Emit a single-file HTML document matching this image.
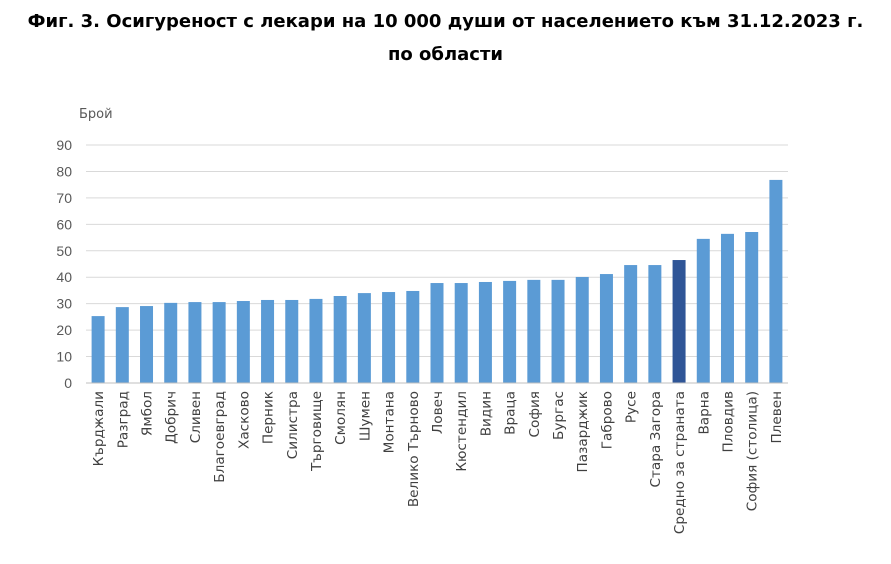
<!DOCTYPE html>
<html><head><meta charset="utf-8"><style>
body{margin:0;background:#fff;width:891px;height:564px;overflow:hidden;font-family:"Liberation Sans","DejaVu Sans",sans-serif}
#title{position:absolute;left:0;width:891px;top:5px;text-align:center;font-weight:bold;font-size:18px;line-height:33px;color:#000;font-family:"DejaVu Sans",sans-serif;white-space:nowrap}
</style></head><body>
<div id="title">Фиг. 3. Осигуреност с лекари на 10 000 души от населението към 31.12.2023 г.<br>по области</div>
<svg id="c" width="891" height="564" style="position:absolute;left:0;top:0"></svg>
<script>
const categories=["Кърджали","Разград","Ямбол","Добрич","Сливен","Благоевград","Хасково","Перник","Силистра","Търговище","Смолян","Шумен","Монтана","Велико Търново","Ловеч","Кюстендил","Видин","Враца","София","Бургас","Пазарджик","Габрово","Русе","Стара Загора","Средно за страната","Варна","Пловдив","София (столица)","Плевен"];
const values=[25.3,28.7,29.1,30.3,30.6,30.6,31.0,31.4,31.4,31.8,32.9,34.0,34.4,34.8,37.8,37.8,38.2,38.6,39.0,39.0,40.1,41.2,44.6,44.6,46.5,54.5,56.4,57.1,76.8];
const highlight=["Средно за страната"];
const yTicks=[0,10,20,30,40,50,60,70,80,90];
const NS="http://www.w3.org/2000/svg";
const svg=document.getElementById('c');
const x0=86,x1=788,y0=383,y1=145,yMax=90;
const y=v=>y0-(v/yMax)*(y0-y1);
const band=(x1-x0)/categories.length;
const xc=i=>x0+band*(i+0.5);
function mk(t,a){const e=document.createElementNS(NS,t);for(const k in a)e.setAttribute(k,a[k]);svg.appendChild(e);return e;}
yTicks.forEach(t=>{
 const g=mk('line',{x1:x0,x2:x1,y1:y(t),y2:y(t),stroke:'#d9d9d9','stroke-width':1});
 
 
 const l=mk('text',{x:72,y:y(t)+5,'text-anchor':'end','font-size':14,fill:'#595959'});
 l.textContent=t;
 
 
});
const yt=mk('text',{x:79,y:118,'font-size':13,fill:'#595959','font-family':'DejaVu Sans, sans-serif'});
yt.textContent='Брой';


categories.forEach((c,i)=>{
 const bw=13;
 const b=mk('rect',{x:xc(i)-bw/2,y:y(values[i]),width:bw,height:y0-y(values[i]),fill:highlight.includes(c)?'#2f5597':'#5b9bd5'});
 
 
 const t=mk('text',{x:0,y:0,'text-anchor':'end','font-size':13.6,fill:'#404040','font-family':'DejaVu Sans, sans-serif',transform:`translate(${xc(i)+5},391) rotate(-90)`});
 t.textContent=c;
 
 
});
const ax=mk('line',{x1:x0,x2:x1,y1:y0,y2:y0,stroke:'#bfbfbf','stroke-width':1});


</script>
</body></html>
